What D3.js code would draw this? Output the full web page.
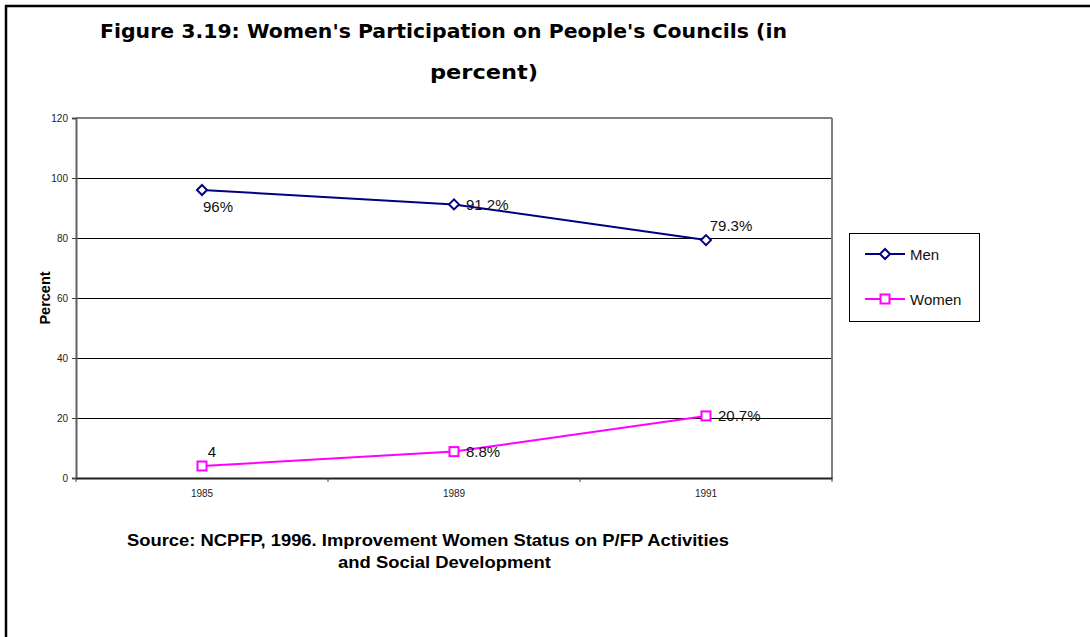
<!DOCTYPE html>
<html>
<head>
<meta charset="utf-8">
<script src="https://cdn.jsdelivr.net/npm/d3@7"></script>
<style>
  html, body { margin: 0; padding: 0; background: #fff; }
  svg { display: block; }
</style>
</head>
<body>
<svg id="chart" width="1090" height="637"></svg>
<script>
// ---- data ----
const categories = ["1985", "1989", "1991"];
const menValues = [96, 91.2, 79.3];
const womenValues = [4, 8.8, 20.7];
const menLabels = ["96%", "91.2%", "79.3%"];
const womenLabels = ["4", "8.8%", "20.7%"];
const yTicks = [0, 20, 40, 60, 80, 100, 120];
const seriesNames = ["Men", "Women"];
const titleLines = ["Figure 3.19: Women's Participation on People's Councils (in", "percent)"];
const sourceLines = ["Source: NCPFP, 1996. Improvement Women Status on P/FP Activities", "and Social Development"];

// label placement (style, not data)
const menPlacement = ["below", "right", "above"];
const womenPlacement = ["above", "right", "right"];

const svg = d3.select("#chart");
const NAVY = "#000080", MAG = "#FF00FF";

// outer frame (right and bottom edges are beyond the view)
svg.append("rect").attr("x", 6).attr("y", 6).attr("width", 1200).attr("height", 800)
  .attr("fill", "none").attr("stroke", "#000").attr("stroke-width", 2.5);

const plot = { left: 76, top: 118, right: 832, bottom: 478 };
const x = d3.scaleBand().domain(categories).range([plot.left, plot.right]);
const y = d3.scaleLinear().domain([0, 120]).range([plot.bottom, plot.top]);
const cx = c => x(c) + x.bandwidth() / 2;

// gridlines
const grid = svg.append("g");
grid.selectAll("line").data(yTicks.filter(t => t > 0 && t < 120)).join("line")
  .attr("x1", plot.left).attr("x2", plot.right)
  .attr("y1", d => y(d)).attr("y2", d => y(d))
  .attr("stroke", "#000").attr("stroke-width", 1).attr("shape-rendering", "crispEdges");
// plot border top & right (grey)
svg.append("line").attr("x1", plot.left).attr("x2", plot.right).attr("y1", y(120)).attr("y2", y(120))
  .attr("stroke", "#808080").attr("stroke-width", 2);
svg.append("line").attr("x1", plot.right).attr("x2", plot.right).attr("y1", plot.top).attr("y2", plot.bottom)
  .attr("stroke", "#808080").attr("stroke-width", 2);

// y axis
const yAxis = d3.axisLeft(y).tickValues(yTicks).tickSize(4).tickPadding(4);
const gy = svg.append("g").attr("transform", `translate(${plot.left},0)`).call(yAxis);
gy.select(".domain").attr("stroke", "#606060").attr("stroke-width", 2);
gy.selectAll(".tick line").attr("stroke", "#404040").attr("stroke-width", 1);
gy.selectAll(".tick text").attr("font-family", "Liberation Sans, Arial, sans-serif")
  .attr("font-size", 10).attr("fill", "#222");

// x axis
const xAxis = d3.axisBottom(x).tickSize(0).tickPadding(12);
const gx = svg.append("g").attr("transform", `translate(0,${plot.bottom})`).call(xAxis);
gx.select(".domain").attr("stroke", "#202020").attr("stroke-width", 2);
gx.selectAll(".tick text").attr("font-family", "Liberation Sans, Arial, sans-serif")
  .attr("font-size", 10).attr("fill", "#222");
// category boundary ticks
const bounds = categories.map(c => x(c)).concat([plot.right]);
gx.selectAll("line.bt").data(bounds).join("line").attr("class", "bt")
  .attr("x1", d => d).attr("x2", d => d).attr("y1", 0).attr("y2", 4)
  .attr("stroke", "#404040").attr("stroke-width", 1);

// y axis title
svg.append("text").attr("transform", `translate(50,${(plot.top + plot.bottom) / 2}) rotate(-90)`)
  .attr("text-anchor", "middle").attr("font-family", "Liberation Sans, Arial, sans-serif")
  .attr("font-weight", "bold").attr("font-size", 14.5).text("Percent");

// series
const line = d3.line().x((d, i) => cx(categories[i])).y(d => y(d));
function drawSeries(values, labels, placement, color, shape) {
  const g = svg.append("g");
  g.append("path").datum(values).attr("d", line).attr("fill", "none")
    .attr("stroke", color).attr("stroke-width", 2);
  values.forEach((v, i) => {
    const px = cx(categories[i]), py = y(v);
    drawMarker(g, px, py, color, shape);
    const t = g.append("text").attr("font-family", "Liberation Sans, Arial, sans-serif")
      .attr("font-size", 15).attr("fill", "#111").text(labels[i]);
    const p = placement[i];
    if (p === "right") t.attr("x", px + 12).attr("y", py + 5.5);
    else if (p === "below") t.attr("x", px + 16).attr("y", py + 22).attr("text-anchor", "middle");
    else if (p === "above") {
      const off = labels[i].length > 2 ? 25 : 10;
      t.attr("x", px + off).attr("y", py - 9.5).attr("text-anchor", "middle");
    }
  });
}
function drawMarker(g, px, py, color, shape) {
  if (shape === "diamond") {
    const r = 5;
    g.append("path").attr("d", `M${px},${py - r}L${px + r},${py}L${px},${py + r}L${px - r},${py}Z`)
      .attr("fill", "#fff").attr("stroke", color).attr("stroke-width", 2);
  } else {
    const s = 9;
    g.append("rect").attr("x", px - s / 2).attr("y", py - s / 2).attr("width", s).attr("height", s)
      .attr("fill", "#fff").attr("stroke", color).attr("stroke-width", 2);
  }
}
drawSeries(menValues, menLabels, menPlacement, NAVY, "diamond");
drawSeries(womenValues, womenLabels, womenPlacement, MAG, "square");

// legend
const lg = svg.append("g");
lg.append("rect").attr("x", 849.5).attr("y", 233.5).attr("width", 130).attr("height", 88)
  .attr("fill", "#fff").attr("stroke", "#000").attr("stroke-width", 1);
const legendItems = [
  { name: seriesNames[0], color: NAVY, shape: "diamond", y: 254 },
  { name: seriesNames[1], color: MAG, shape: "square", y: 299 }
];
legendItems.forEach(it => {
  lg.append("line").attr("x1", 865).attr("x2", 905).attr("y1", it.y).attr("y2", it.y)
    .attr("stroke", it.color).attr("stroke-width", 2);
  drawMarker(lg, 885, it.y, it.color, it.shape);
  lg.append("text").attr("x", 910).attr("y", it.y + 5.5)
    .attr("font-family", "Liberation Sans, Arial, sans-serif").attr("font-size", 15)
    .attr("fill", "#111").text(it.name);
});

// title
svg.append("text").attr("x", 100).attr("y", 38).attr("font-family", "DejaVu Sans, Verdana, sans-serif")
  .attr("font-weight", "bold").attr("font-size", 20).attr("textLength", 687)
  .attr("lengthAdjust", "spacingAndGlyphs").text(titleLines[0]);
svg.append("text").attr("x", 430).attr("y", 79).attr("font-family", "DejaVu Sans, Verdana, sans-serif")
  .attr("font-weight", "bold").attr("font-size", 20).attr("textLength", 108)
  .attr("lengthAdjust", "spacingAndGlyphs").text(titleLines[1]);

// source
svg.append("text").attr("x", 127).attr("y", 546).attr("font-family", "Liberation Sans, Arial, sans-serif")
  .attr("font-weight", "bold").attr("font-size", 17).attr("textLength", 602)
  .attr("lengthAdjust", "spacingAndGlyphs").text(sourceLines[0]);
svg.append("text").attr("x", 338).attr("y", 568).attr("font-family", "Liberation Sans, Arial, sans-serif")
  .attr("font-weight", "bold").attr("font-size", 17).attr("textLength", 213)
  .attr("lengthAdjust", "spacingAndGlyphs").text(sourceLines[1]);
</script>
</body>
</html>
